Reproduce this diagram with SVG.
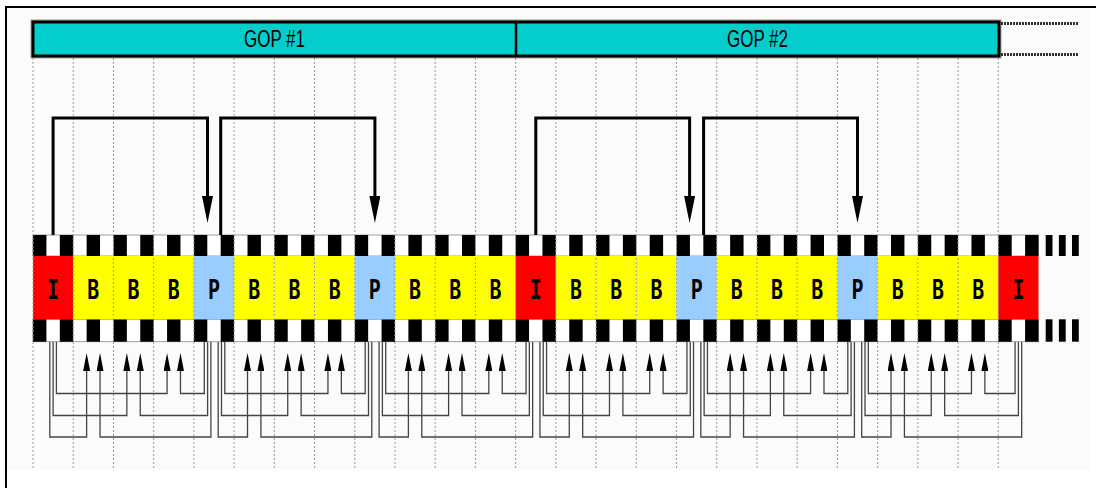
<svg xmlns="http://www.w3.org/2000/svg" width="1096" height="488" viewBox="0 0 1096 488">
<style>
.fI{fill:#ff0000}
.fB{fill:#ffff00}
.fP{fill:#99ccff}
.lbl{font-family:"DejaVu Sans Mono","Liberation Mono",monospace;font-weight:bold;font-size:27px;fill:#000;text-anchor:middle}
.gop{font-family:"Liberation Sans",Arial,sans-serif;font-size:24px;fill:#000;text-anchor:middle}
.grid{fill:none;stroke:#9a9a9a;stroke-width:1;stroke-dasharray:2 2}
.ref{fill:none;stroke:#000;stroke-width:3;marker-end:url(#bigHead)}
.dep{fill:none;stroke:#444;stroke-width:1.3;marker-end:url(#smallHead)}
</style>
<defs>
<marker id="bigHead" viewBox="0 0 27 11" refX="1" refY="5.5" markerWidth="27" markerHeight="11" markerUnits="userSpaceOnUse" orient="auto">
<path d="M0 0 L27 5.5 L0 11 Z" fill="#000"/>
</marker>
<marker id="smallHead" viewBox="0 0 18 7" refX="1" refY="3.5" markerWidth="18" markerHeight="7" markerUnits="userSpaceOnUse" orient="auto">
<path d="M0 0 L18 3.5 L0 7 Z" fill="#000"/>
</marker>
</defs>
<rect x="0" y="0" width="1096" height="488" fill="#ffffff"/>
<rect x="7" y="8" width="1083" height="462" fill="#fbfcfa"/>
<rect x="5" y="6" width="1091" height="2" fill="#000"/>
<rect x="5" y="6" width="2" height="482" fill="#000"/>

<g id="gop-header">
<rect x="33" y="22" width="966" height="34" fill="none" stroke="#999" stroke-width="5"/>
<rect x="33" y="22" width="966" height="34" fill="#04cecb" stroke="#000" stroke-width="3"/>
<line x1="516" y1="22" x2="516" y2="56" stroke="#000" stroke-width="2.5"/>
<line x1="1001" y1="23.5" x2="1079" y2="23.5" stroke="#333" stroke-width="3" stroke-dasharray="2 1"/>
<line x1="1001" y1="54.5" x2="1079" y2="54.5" stroke="#333" stroke-width="3" stroke-dasharray="2 1"/>
</g>
<g id="gop1"><text class="gop" x="274.5" y="47" textLength="61" lengthAdjust="spacingAndGlyphs">GOP #1</text></g>
<g id="gop2"><text class="gop" x="757.5" y="47" textLength="61" lengthAdjust="spacingAndGlyphs">GOP #2</text></g>

<g id="film-strip">
<rect x="33" y="235" width="1005.5" height="21" fill="#fff" stroke="#888" stroke-width="0.8"/>
<rect x="33" y="319.3" width="1005.5" height="22.4" fill="#fff" stroke="#888" stroke-width="0.8"/>
<line x1="33" y1="245.5" x2="1038.5" y2="245.5" stroke="#000" stroke-width="21" stroke-dasharray="13.4067 13.4067"/>
<line x1="33" y1="330.5" x2="1038.5" y2="330.5" stroke="#000" stroke-width="22.4" stroke-dasharray="13.4067 13.4067"/>
<rect x="1045.7" y="235" width="6.8" height="21" fill="#000"/>
<rect x="1058.9" y="235" width="6.8" height="21" fill="#000"/>
<rect x="1072" y="235" width="6.8" height="21" fill="#000"/>
<rect x="1045.7" y="319.3" width="6.8" height="22.4" fill="#000"/>
<rect x="1058.9" y="319.3" width="6.8" height="22.4" fill="#000"/>
<rect x="1072" y="319.3" width="6.8" height="22.4" fill="#000"/>
</g>

<g id="frame-0"><rect class="fI" x="33" y="256" width="40.22" height="63.3"/><text class="lbl" x="53.11" y="298.5" textLength="12" lengthAdjust="spacingAndGlyphs">I</text></g>
<g id="frame-1"><rect class="fB" x="73.22" y="256" width="40.22" height="63.3"/><text class="lbl" x="93.33" y="298.5" textLength="12" lengthAdjust="spacingAndGlyphs">B</text></g>
<g id="frame-2"><rect class="fB" x="113.44" y="256" width="40.22" height="63.3"/><text class="lbl" x="133.55" y="298.5" textLength="12" lengthAdjust="spacingAndGlyphs">B</text></g>
<g id="frame-3"><rect class="fB" x="153.66" y="256" width="40.22" height="63.3"/><text class="lbl" x="173.77" y="298.5" textLength="12" lengthAdjust="spacingAndGlyphs">B</text></g>
<g id="frame-4"><rect class="fP" x="193.88" y="256" width="40.22" height="63.3"/><text class="lbl" x="213.99" y="298.5" textLength="12" lengthAdjust="spacingAndGlyphs">P</text></g>
<g id="frame-5"><rect class="fB" x="234.10" y="256" width="40.22" height="63.3"/><text class="lbl" x="254.21" y="298.5" textLength="12" lengthAdjust="spacingAndGlyphs">B</text></g>
<g id="frame-6"><rect class="fB" x="274.32" y="256" width="40.22" height="63.3"/><text class="lbl" x="294.43" y="298.5" textLength="12" lengthAdjust="spacingAndGlyphs">B</text></g>
<g id="frame-7"><rect class="fB" x="314.54" y="256" width="40.22" height="63.3"/><text class="lbl" x="334.65" y="298.5" textLength="12" lengthAdjust="spacingAndGlyphs">B</text></g>
<g id="frame-8"><rect class="fP" x="354.76" y="256" width="40.22" height="63.3"/><text class="lbl" x="374.87" y="298.5" textLength="12" lengthAdjust="spacingAndGlyphs">P</text></g>
<g id="frame-9"><rect class="fB" x="394.98" y="256" width="40.22" height="63.3"/><text class="lbl" x="415.09" y="298.5" textLength="12" lengthAdjust="spacingAndGlyphs">B</text></g>
<g id="frame-10"><rect class="fB" x="435.20" y="256" width="40.22" height="63.3"/><text class="lbl" x="455.31" y="298.5" textLength="12" lengthAdjust="spacingAndGlyphs">B</text></g>
<g id="frame-11"><rect class="fB" x="475.42" y="256" width="40.22" height="63.3"/><text class="lbl" x="495.53" y="298.5" textLength="12" lengthAdjust="spacingAndGlyphs">B</text></g>
<g id="frame-12"><rect class="fI" x="515.64" y="256" width="40.22" height="63.3"/><text class="lbl" x="535.75" y="298.5" textLength="12" lengthAdjust="spacingAndGlyphs">I</text></g>
<g id="frame-13"><rect class="fB" x="555.86" y="256" width="40.22" height="63.3"/><text class="lbl" x="575.97" y="298.5" textLength="12" lengthAdjust="spacingAndGlyphs">B</text></g>
<g id="frame-14"><rect class="fB" x="596.08" y="256" width="40.22" height="63.3"/><text class="lbl" x="616.19" y="298.5" textLength="12" lengthAdjust="spacingAndGlyphs">B</text></g>
<g id="frame-15"><rect class="fB" x="636.30" y="256" width="40.22" height="63.3"/><text class="lbl" x="656.41" y="298.5" textLength="12" lengthAdjust="spacingAndGlyphs">B</text></g>
<g id="frame-16"><rect class="fP" x="676.52" y="256" width="40.22" height="63.3"/><text class="lbl" x="696.63" y="298.5" textLength="12" lengthAdjust="spacingAndGlyphs">P</text></g>
<g id="frame-17"><rect class="fB" x="716.74" y="256" width="40.22" height="63.3"/><text class="lbl" x="736.85" y="298.5" textLength="12" lengthAdjust="spacingAndGlyphs">B</text></g>
<g id="frame-18"><rect class="fB" x="756.96" y="256" width="40.22" height="63.3"/><text class="lbl" x="777.07" y="298.5" textLength="12" lengthAdjust="spacingAndGlyphs">B</text></g>
<g id="frame-19"><rect class="fB" x="797.18" y="256" width="40.22" height="63.3"/><text class="lbl" x="817.29" y="298.5" textLength="12" lengthAdjust="spacingAndGlyphs">B</text></g>
<g id="frame-20"><rect class="fP" x="837.40" y="256" width="40.22" height="63.3"/><text class="lbl" x="857.51" y="298.5" textLength="12" lengthAdjust="spacingAndGlyphs">P</text></g>
<g id="frame-21"><rect class="fB" x="877.62" y="256" width="40.22" height="63.3"/><text class="lbl" x="897.73" y="298.5" textLength="12" lengthAdjust="spacingAndGlyphs">B</text></g>
<g id="frame-22"><rect class="fB" x="917.84" y="256" width="40.22" height="63.3"/><text class="lbl" x="937.95" y="298.5" textLength="12" lengthAdjust="spacingAndGlyphs">B</text></g>
<g id="frame-23"><rect class="fB" x="958.06" y="256" width="40.22" height="63.3"/><text class="lbl" x="978.17" y="298.5" textLength="12" lengthAdjust="spacingAndGlyphs">B</text></g>
<g id="frame-24"><rect class="fI" x="998.28" y="256" width="40.22" height="63.3"/><text class="lbl" x="1018.39" y="298.5" textLength="12" lengthAdjust="spacingAndGlyphs">I</text></g>

<path class="grid" d="M33 58V468M73.22 58V468M113.44 58V468M153.66 58V468M193.88 58V468M234.1 58V468M274.32 58V468M314.54 58V468M354.76 58V468M394.98 58V468M435.2 58V468M475.42 58V468M515.64 58V468M555.86 58V468M596.08 58V468M636.3 58V468M676.52 58V468M716.74 58V468M756.96 58V468M797.18 58V468M837.4 58V468M877.62 58V468M917.84 58V468M958.06 58V468M998.28 58V468"/>

<g id="connectors">
<path class="ref" d="M53.1 235V118H207.5V197"/>
<path class="ref" d="M220.7 235V118H374.9V197"/>
<path class="ref" d="M535.8 235V118H689.6V197"/>
<path class="ref" d="M703.6 235V118H857.5V197"/>

<path class="dep" d="M56.4 342V393.5H167.07V370"/>
<path class="dep" d="M204.3 342V393.5H180.47V370"/>
<path class="dep" d="M53.1 342V415.5H126.85V370"/>
<path class="dep" d="M207.6 342V415.5H140.25V370"/>
<path class="dep" d="M49.8 342V437H86.63V370"/>
<path class="dep" d="M210.9 342V437H100.03V370"/>

<path class="dep" d="M224.8 342V393.5H327.95V370"/>
<path class="dep" d="M365.2 342V393.5H341.35V370"/>
<path class="dep" d="M221.5 342V415.5H287.73V370"/>
<path class="dep" d="M368.5 342V415.5H301.13V370"/>
<path class="dep" d="M218.2 342V437H247.51V370"/>
<path class="dep" d="M371.8 342V437H260.91V370"/>

<path class="dep" d="M385.7 342V393.5H488.83V370"/>
<path class="dep" d="M526.05 342V393.5H502.23V370"/>
<path class="dep" d="M382.4 342V415.5H448.61V370"/>
<path class="dep" d="M529.35 342V415.5H462.01V370"/>
<path class="dep" d="M379.1 342V437H408.39V370"/>
<path class="dep" d="M532.65 342V437H421.79V370"/>

<path class="dep" d="M546.55 342V393.5H649.71V370"/>
<path class="dep" d="M686.93 342V393.5H663.11V370"/>
<path class="dep" d="M543.25 342V415.5H609.49V370"/>
<path class="dep" d="M690.23 342V415.5H622.89V370"/>
<path class="dep" d="M539.95 342V437H569.27V370"/>
<path class="dep" d="M693.53 342V437H582.67V370"/>

<path class="dep" d="M707.43 342V393.5H810.59V370"/>
<path class="dep" d="M847.81 342V393.5H823.99V370"/>
<path class="dep" d="M704.13 342V415.5H770.37V370"/>
<path class="dep" d="M851.11 342V415.5H783.77V370"/>
<path class="dep" d="M700.83 342V437H730.15V370"/>
<path class="dep" d="M854.41 342V437H743.55V370"/>

<path class="dep" d="M868.31 342V393.5H971.47V370"/>
<path class="dep" d="M1015.09 342V393.5H984.87V370"/>
<path class="dep" d="M865.01 342V415.5H931.25V370"/>
<path class="dep" d="M1018.39 342V415.5H944.65V370"/>
<path class="dep" d="M861.71 342V437H891.03V370"/>
<path class="dep" d="M1021.69 342V437H904.43V370"/>
</g>
</svg>
